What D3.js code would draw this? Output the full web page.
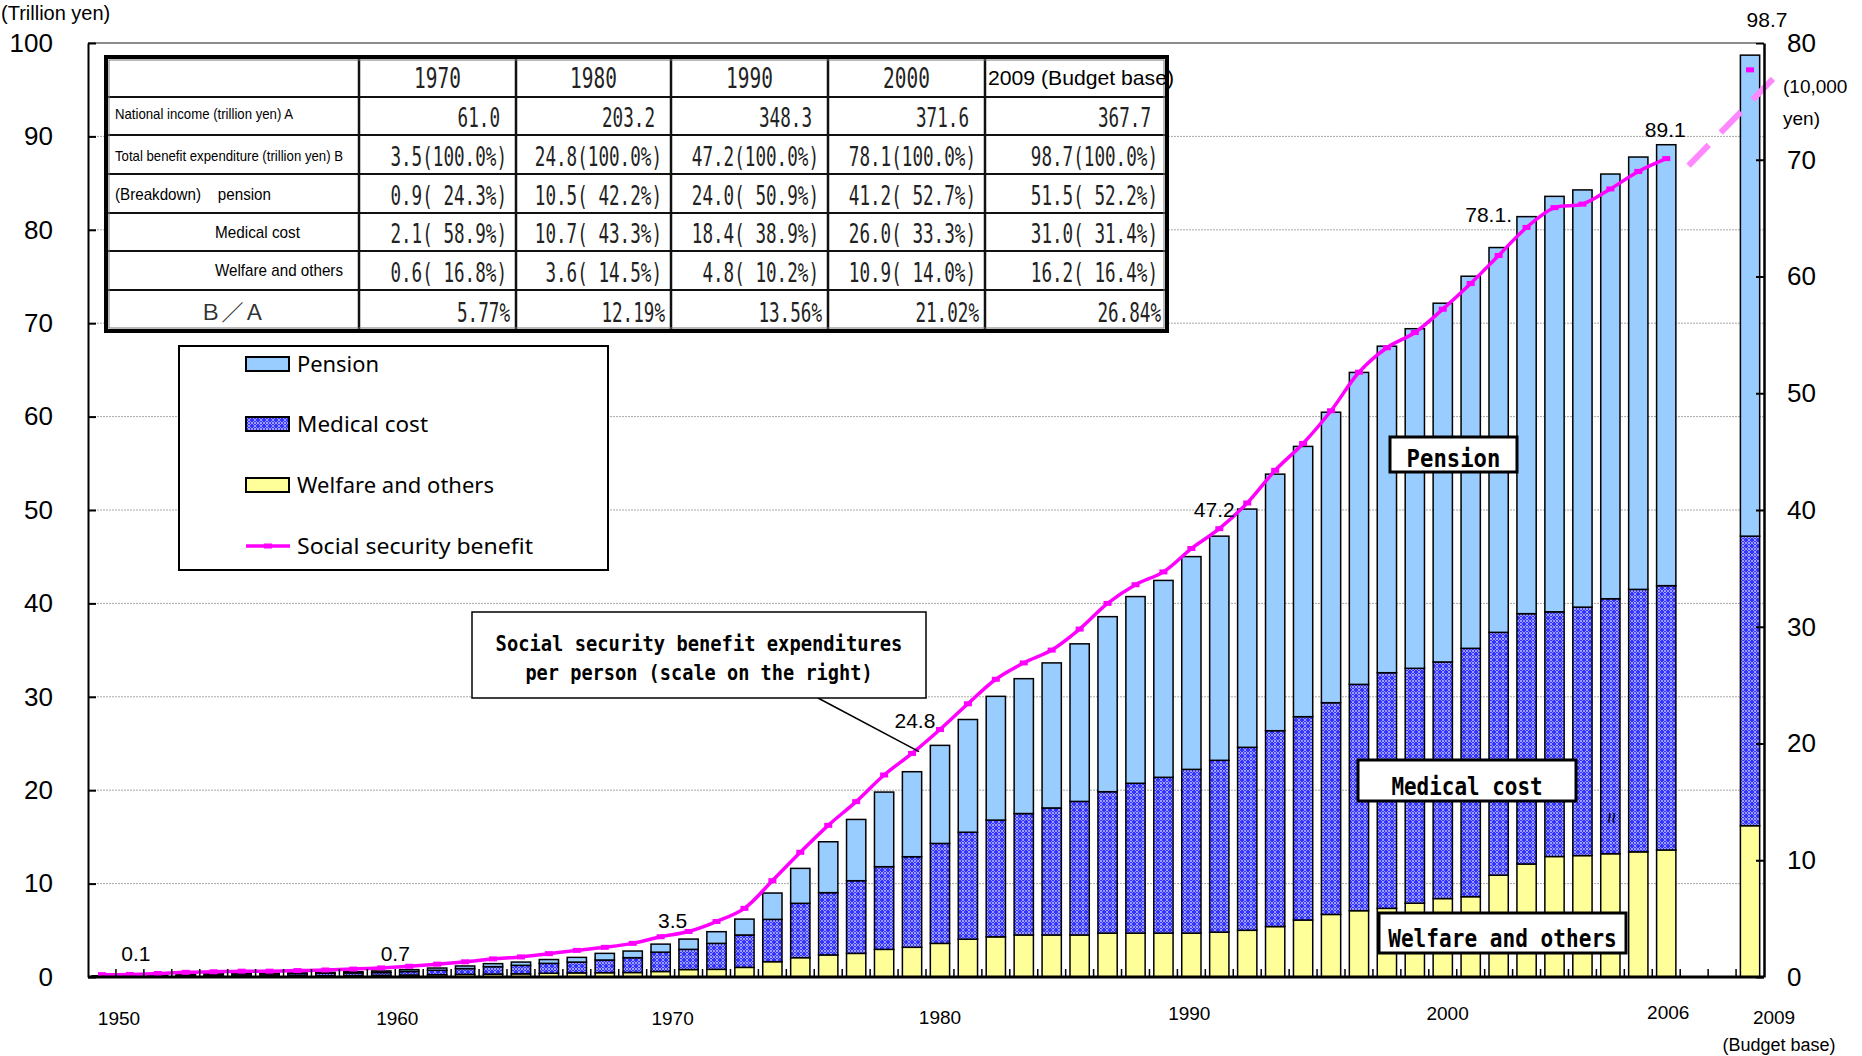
<!DOCTYPE html>
<html>
<head>
<meta charset="utf-8">
<script src="https://cdn.jsdelivr.net/npm/d3@7"></script>
<style>
  html, body { margin: 0; padding: 0; background: #fff; }
  svg { display: block; font-family: "Liberation Sans", Arial, sans-serif; }
</style>
</head>
<body>
<svg id="chart" width="1862" height="1056"></svg>
<script>
// ---------------- DATA ----------------
const barYears = [1950,1951,1952,1953,1954,1955,1956,1957,1958,1959,
  1960,1961,1962,1963,1964,1965,1966,1967,1968,1969,
  1970,1971,1972,1973,1974,1975,1976,1977,1978,1979,
  1980,1981,1982,1983,1984,1985,1986,1987,1988,1989,
  1990,1991,1992,1993,1994,1995,1996,1997,1998,1999,
  2000,2001,2002,2003,2004,2005,2006,2009];

// trillion yen
const welfare = [0.06,0.07,0.09,0.12,0.13,0.13,0.13,0.14,0.15,0.16,
  0.18,0.21,0.24,0.28,0.31,0.34,0.40,0.44,0.46,0.48,
  0.59,0.80,0.82,1.03,1.64,2.07,2.36,2.53,2.96,3.18,
  3.60,4.05,4.30,4.50,4.50,4.50,4.70,4.70,4.70,4.70,
  4.80,5.00,5.40,6.10,6.70,7.10,7.35,7.90,8.40,8.60,
  10.90,12.10,12.90,13.00,13.20,13.40,13.60,16.20];
const medical = [0.06,0.08,0.11,0.16,0.19,0.20,0.20,0.22,0.25,0.28,
  0.30,0.38,0.48,0.62,0.80,0.91,1.06,1.16,1.36,1.59,
  2.07,2.16,2.78,3.47,4.53,5.82,6.67,7.78,8.85,9.70,
  10.70,11.45,12.50,13.00,13.60,14.30,15.14,16.04,16.68,17.53,
  18.40,19.59,20.97,21.77,22.67,24.23,25.23,25.15,25.33,26.59,
  26.00,26.80,26.20,26.60,27.30,28.10,28.30,31.00];
const pension = [0.01,0.01,0.02,0.03,0.04,0.06,0.07,0.08,0.10,0.12,
  0.17,0.20,0.24,0.28,0.32,0.35,0.41,0.50,0.71,0.71,
  0.86,1.10,1.25,1.70,2.82,3.74,5.45,6.56,7.99,9.10,
  10.50,12.07,13.25,14.44,15.53,16.87,18.74,19.99,21.08,22.78,
  24.00,25.51,27.47,28.94,31.10,33.40,34.96,36.36,38.41,39.84,
  41.20,42.51,44.48,44.67,45.47,46.29,47.21,51.50];

// Social security benefit per person (10,000 yen), 1950-2006
const perPersonYears = barYears.slice(0, 57);
const perPerson = [0.20,0.22,0.30,0.40,0.45,0.50,0.50,0.55,0.60,0.68,
  0.78,0.92,1.10,1.30,1.55,1.72,2.00,2.28,2.54,2.88,
  3.45,3.90,4.75,5.88,8.25,10.68,12.99,15.02,17.30,19.15,
  21.20,23.40,25.50,26.90,28.00,29.80,32.00,33.60,34.70,36.70,
  38.40,40.60,43.40,45.70,48.50,51.80,53.90,55.20,57.20,59.40,
  61.80,64.20,65.90,66.20,67.50,69.00,70.10];
const perPerson2009 = { year: 2009, v: 77.7 };

// total labels shown above bars
const totalLabels = [
  { year: 1950, total: 0.13, text: "0.1" },
  { year: 1960, total: 0.65, text: "0.7" },
  { year: 1970, total: 3.52, text: "3.5" },
  { year: 1980, total: 24.8, text: "24.8" },
  { year: 1990, total: 47.2, text: "47.2" },
  { year: 2000, total: 78.1, text: "78.1." },
  { year: 2006, total: 89.11, text: "89.1" },
  { year: 2009, total: 98.7, text: "98.7" }
];

const xTickLabels = ["1950","1960","1970","1980","1990","2000","2006","2009"];
const leftTicks = [0,10,20,30,40,50,60,70,80,90,100];
const rightTicks = [0,10,20,30,40,50,60,70,80];

// table
const tableHeader = ["1970","1980","1990","2000","2009 (Budget base)"];
const tableRowLabels = ["National income (trillion yen) A",
  "Total benefit expenditure (trillion yen) B",
  "(Breakdown)    pension", "Medical cost", "Welfare and others", "Ｂ／Ａ"];
const nationalIncome = ["61.0","203.2","348.3","371.6","367.7"];
const totalBenefit = ["3.5(100.0%)","24.8(100.0%)","47.2(100.0%)","78.1(100.0%)","98.7(100.0%)"];
const pensionRow = ["0.9( 24.3%)","10.5( 42.2%)","24.0( 50.9%)","41.2( 52.7%)","51.5( 52.2%)"];
const medicalRow = ["2.1( 58.9%)","10.7( 43.3%)","18.4( 38.9%)","26.0( 33.3%)","31.0( 31.4%)"];
const welfareRow = ["0.6( 16.8%)","3.6( 14.5%)","4.8( 10.2%)","10.9( 14.0%)","16.2( 16.4%)"];
const ratioRow = ["5.77%","12.19%","13.56%","21.02%","26.84%"];

const legendItems = ["Pension","Medical cost","Welfare and others","Social security benefit"];

// ---------------- LAYOUT ----------------
const L = { left: 88, right: 1764, top: 43, bottom: 977 };
const svg = d3.select("#chart");
const COL = { pension: "#99CCFF", welfare: "#FFFF99", line: "#FF00FF", dash: "#FF88FF" };
const SANS = "'Liberation Sans', Arial, sans-serif";
const MONO = "'DejaVu Sans Mono', monospace";

const x = d3.scaleBand().domain(d3.range(1950, 2010)).range([L.left, L.right])
  .paddingInner(0.31).paddingOuter(0.155);
const bw = x.bandwidth();
const cx = y => x(y) + bw / 2;
const xl = d3.scaleLinear().domain([1950, 2009]).range([cx(1950), cx(2009)]);
const yL = d3.scaleLinear().domain([0, 100]).range([L.bottom, L.top]);
const yR = d3.scaleLinear().domain([0, 80]).range([L.bottom, L.top]);

// pattern for medical cost
const defs = svg.append("defs");
const pat = defs.append("pattern").attr("id", "med").attr("width", 6).attr("height", 6)
  .attr("patternUnits", "userSpaceOnUse");
pat.append("rect").attr("width", 6).attr("height", 6).attr("fill", "#3434FF");
pat.append("path").attr("d", "M0,3 L3,0 L6,3 L3,6 Z").attr("fill", "none")
  .attr("stroke", "#9A9AFF").attr("stroke-width", 1);
pat.append("circle").attr("cx", 3).attr("cy", 3).attr("r", 0.9).attr("fill", "#D0D0FF");

// gridlines
const grid = svg.append("g");
grid.selectAll("line.g").data(leftTicks.filter(v => v > 0 && v < 100)).join("line")
  .attr("x1", L.left).attr("x2", L.right).attr("y1", d => yL(d)).attr("y2", d => yL(d))
  .attr("stroke", "#A8A8A8").attr("stroke-width", 1).attr("stroke-dasharray", "2,1");
grid.append("line").attr("x1", L.left).attr("x2", L.right - 8)
  .attr("y1", yL(100)).attr("y2", yL(100)).attr("stroke", "#8C8C8C").attr("stroke-width", 2);

// bars
const rows = barYears.map((yr, i) => ({ year: yr, welfare: welfare[i], medical: medical[i], pension: pension[i] }));
const stack = d3.stack().keys(["welfare", "medical", "pension"])(rows);
const fillFor = { welfare: COL.welfare, medical: "url(#med)", pension: COL.pension };
svg.append("g").selectAll("g").data(stack).join("g")
  .attr("fill", d => fillFor[d.key])
  .selectAll("rect").data(d => d).join("rect")
  .attr("x", d => x(d.data.year)).attr("width", bw)
  .attr("y", d => yL(d[1])).attr("height", d => Math.max(0, yL(d[0]) - yL(d[1])))
  .attr("stroke", "#000").attr("stroke-width", 1.5);

// per-person line
const linePts = perPersonYears.map((yr, i) => ({ year: yr, v: perPerson[i] }));
const line = d3.line().x(d => cx(d.year)).y(d => yR(d.v)).curve(d3.curveCatmullRom.alpha(0.5));
svg.append("path").datum(linePts).attr("d", line).attr("fill", "none")
  .attr("stroke", COL.line).attr("stroke-width", 3.5);
svg.append("g").selectAll("rect").data(linePts.concat([perPerson2009])).join("rect")
  .attr("x", d => cx(d.year) - 4).attr("y", d => yR(d.v) - 2.5)
  .attr("width", 8).attr("height", 5).attr("fill", COL.line);

// dashed connector 2006 -> 2009
const conn = [{ year: 2006.8, v: 69.5 }, { year: 2009.85, v: 77.0 }];
svg.append("line")
  .attr("x1", xl(conn[0].year)).attr("y1", yR(conn[0].v))
  .attr("x2", xl(conn[1].year)).attr("y2", yR(conn[1].v))
  .attr("stroke", COL.dash).attr("stroke-width", 6).attr("stroke-dasharray", "29,17");

// axes
const axL = svg.append("g").attr("transform", `translate(${L.left},0)`)
  .call(d3.axisLeft(yL).tickValues(leftTicks).tickSizeInner(-8).tickSizeOuter(0).tickPadding(35));
axL.select(".domain").attr("stroke", "#000").attr("stroke-width", 2);
axL.selectAll(".tick line").attr("stroke", "#000").attr("stroke-width", 2);
axL.selectAll(".tick text").attr("font-size", 26).style("font-family", SANS).attr("fill", "#000");

const axR = svg.append("g").attr("transform", `translate(${L.right},0)`)
  .call(d3.axisRight(yR).tickValues(rightTicks).tickSizeInner(-8).tickSizeOuter(0).tickPadding(23));
axR.select(".domain").attr("stroke", "#000").attr("stroke-width", 2.5);
axR.selectAll(".tick line").attr("stroke", "#000").attr("stroke-width", 2);
axR.selectAll(".tick text").attr("font-size", 26).style("font-family", SANS).attr("fill", "#000");

// bottom axis
svg.append("line").attr("x1", L.left).attr("x2", L.right).attr("y1", L.bottom).attr("y2", L.bottom)
  .attr("stroke", "#000").attr("stroke-width", 3);
const gap = (x.step() - bw) / 2;
svg.append("g").selectAll("line").data(d3.range(1951, 2010)).join("line")
  .attr("x1", d => x(d) - gap).attr("x2", d => x(d) - gap)
  .attr("y1", L.bottom).attr("y2", L.bottom - 8).attr("stroke", "#000").attr("stroke-width", 1.5);

const xLabOff = { "1950": [17, 48], "1960": [16, 48], "1970": [12, 48], "1980": [0, 47],
  "1990": [-30, 43], "2000": [-51, 43], "2006": [2, 42], "2009": [24, 47] };
svg.append("g").selectAll("text").data(xTickLabels).join("text")
  .attr("x", d => cx(+d) + xLabOff[d][0]).attr("y", d => L.bottom + xLabOff[d][1])
  .attr("text-anchor", "middle").attr("font-size", 19).text(d => d);
svg.append("text").attr("x", cx(2009) + 29).attr("y", L.bottom + 74)
  .attr("text-anchor", "middle").attr("font-size", 18).text("(Budget base)");

// unit labels
svg.append("text").attr("x", 1).attr("y", 20).attr("font-size", 20).text("(Trillion yen)");
svg.append("text").attr("x", L.right + 19).attr("y", 93).attr("font-size", 19).text("(10,000");
svg.append("text").attr("x", L.right + 19).attr("y", 125).attr("font-size", 19).text("yen)");

// total value labels
const lblOff = { "1950": [34, -15], "1960": [14, -10], "1970": [12, -16], "1980": [-25, -17],
  "1990": [-5, -19], "2000": [-10, -26], "2006": [-1, -8], "2009": [17, -28] };
svg.append("g").selectAll("text").data(totalLabels).join("text")
  .attr("x", d => cx(d.year) + lblOff[d.year][0])
  .attr("y", d => yL(d.total) + lblOff[d.year][1])
  .attr("text-anchor", "middle").attr("font-size", 21).text(d => d.text);

// ---------------- TABLE ----------------
const colX = [106, 359, 516, 671, 828, 985, 1167];
const rowY = [57, 97, 135, 174, 213, 251, 290, 331];
const tbl = svg.append("g");
tbl.append("rect").attr("x", colX[0]).attr("y", rowY[0])
  .attr("width", colX[6] - colX[0]).attr("height", rowY[7] - rowY[0])
  .attr("fill", "#fff");
rowY.slice(1, 7).forEach(y => tbl.append("line").attr("x1", colX[0]).attr("x2", colX[6])
  .attr("y1", y).attr("y2", y).attr("stroke", "#111").attr("stroke-width", 2));
colX.slice(1, 6).forEach(xx => tbl.append("line").attr("x1", xx).attr("x2", xx)
  .attr("y1", rowY[0]).attr("y2", rowY[7]).attr("stroke", "#111").attr("stroke-width", 2.5));
tbl.append("rect").attr("x", colX[0]).attr("y", rowY[0])
  .attr("width", colX[6] - colX[0]).attr("height", rowY[7] - rowY[0])
  .attr("fill", "none").attr("stroke", "#000").attr("stroke-width", 4);
tbl.append("rect").attr("x", colX[0] + 3).attr("y", rowY[0] + 3)
  .attr("width", colX[6] - colX[0] - 6).attr("height", rowY[7] - rowY[0] - 6)
  .attr("fill", "none").attr("stroke", "#777").attr("stroke-width", 1);

// condensed monospace text: font size from char width, tall glyphs via vertical scale
function mono(g, str, xx, yy, anchor, charW, capH) {
  const fs = charW / 0.602;
  const sy = capH / (0.729 * fs);
  return g.append("text").attr("transform", `translate(${xx},${yy}) scale(1,${sy.toFixed(3)})`)
    .attr("text-anchor", anchor)
    .style("font-family", MONO).attr("font-size", fs.toFixed(2))
    .attr("textLength", (str.length * charW).toFixed(1)).attr("lengthAdjust", "spacingAndGlyphs")
    .style("white-space", "pre").text(str);
}
const rc = i => (rowY[i] + rowY[i + 1]) / 2;
// header
tableHeader.forEach((h, j) => {
  if (j < 4) mono(tbl, h, (colX[j + 1] + colX[j + 2]) / 2, rc(0) + 11, "middle", 11.7, 21).attr("fill", "#222");
  else tbl.append("text").attr("x", colX[5] + 3).attr("y", rc(0) + 8).attr("font-size", 21)
    .attr("textLength", 186).attr("lengthAdjust", "spacingAndGlyphs").text(h);
});
const valueRows = [nationalIncome, totalBenefit, pensionRow, medicalRow, welfareRow, ratioRow];
const padR = [16, 9, 9, 9, 9, 6];
valueRows.forEach((row, i) => {
  row.forEach((v, j) => mono(tbl, v, colX[j + 2] - padR[i], rc(i + 1) + 11, "end", 10.6, 20).attr("fill", "#222"));
});
// row labels
const lab = [
  { x: 115, dy: 3, fs: 15, w: 178 },
  { x: 115, dy: 6, fs: 15, w: 228 },
  { x: 115, dy: 6, fs: 17, w: 156 },
  { x: 215, dy: 6, fs: 17, w: 85 },
  { x: 215, dy: 5, fs: 17, w: 128 }
];
lab.forEach((o, i) => {
  tbl.append("text").attr("x", o.x).attr("y", rc(i + 1) + o.dy).attr("font-size", o.fs)
    .attr("textLength", o.w).attr("lengthAdjust", "spacingAndGlyphs")
    .style("white-space", "pre").text(tableRowLabels[i]);
});
tbl.append("text").attr("x", (colX[0] + colX[1]) / 2).attr("y", rc(6) + 9)
  .attr("text-anchor", "middle").style("font-family", "'Noto Sans CJK JP', sans-serif").attr("font-size", 22)
  .attr("fill", "#333").text(tableRowLabels[5]);

// ---------------- LEGEND ----------------
const lg = svg.append("g");
lg.append("rect").attr("x", 179).attr("y", 346).attr("width", 429).attr("height", 224)
  .attr("fill", "#fff").attr("stroke", "#000").attr("stroke-width", 2);
const legY = [364, 424, 485, 546];
const legFill = [COL.pension, "url(#med)", COL.welfare];
const legW = [82, 131, 197, 236];
legendItems.forEach((t, i) => {
  if (i < 3) {
    lg.append("rect").attr("x", 246).attr("y", legY[i] - 7).attr("width", 43).attr("height", 14)
      .attr("fill", legFill[i]).attr("stroke", "#000").attr("stroke-width", 2);
  } else {
    lg.append("line").attr("x1", 246).attr("x2", 290).attr("y1", legY[i]).attr("y2", legY[i])
      .attr("stroke", COL.line).attr("stroke-width", 3.5);
    lg.append("rect").attr("x", 264).attr("y", legY[i] - 2.5).attr("width", 8).attr("height", 5)
      .attr("fill", COL.line);
  }
  lg.append("text").attr("x", 297).attr("y", legY[i] + 8).style("font-family", "'Noto Sans', sans-serif")
    .attr("font-size", 21).attr("textLength", legW[i]).attr("lengthAdjust", "spacingAndGlyphs").text(t);
});

// ---------------- ANNOTATION BOXES ----------------
const ann = svg.append("g");
ann.append("line").attr("x1", 818).attr("y1", 698).attr("x2", cx(1979) + 7).attr("y2", yR(19.3))
  .attr("stroke", "#000").attr("stroke-width", 1.5);
ann.append("rect").attr("x", 472).attr("y", 612).attr("width", 454).attr("height", 86)
  .attr("fill", "#fff").attr("stroke", "#000").attr("stroke-width", 1.5);
const a1 = "Social security benefit expenditures";
const a2 = "per person (scale on the right)";
mono(ann, a1, 699, 651, "middle", 11.3, 15).attr("font-weight", "bold");
mono(ann, a2, 699, 680, "middle", 11.2, 15).attr("font-weight", "bold");

const seriesBoxes = [
  { t: "Pension", x: 1390, y: 437, w: 127, h: 35, base: 467, cw: 13.4 },
  { t: "Medical cost", x: 1358, y: 760, w: 218, h: 41, base: 795, cw: 12.6 },
  { t: "Welfare and others", x: 1379, y: 913, w: 247, h: 40, base: 947, cw: 12.7 }
];
seriesBoxes.forEach(b => {
  ann.append("rect").attr("x", b.x).attr("y", b.y).attr("width", b.w).attr("height", b.h)
    .attr("fill", "#fff").attr("stroke", "#000").attr("stroke-width", 3);
  mono(ann, b.t, b.x + b.w / 2, b.base, "middle", b.cw, 18).attr("font-weight", "bold");
});

// break mark on 2004 bar
ann.append("text").attr("transform", `translate(${cx(2004) + 2},818) rotate(90)`)
  .attr("text-anchor", "middle").attr("dominant-baseline", "central")
  .attr("font-size", 20).text("≈");
</script>
</body>
</html>
